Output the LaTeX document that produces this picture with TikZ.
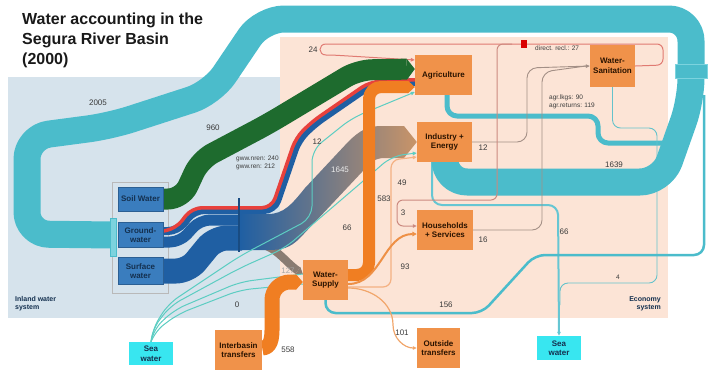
\documentclass[tikz,border=0pt]{standalone}
\usepackage{fontspec}
\setmainfont{Liberation Sans}
\usetikzlibrary{arrows.meta,calc}
\pgfdeclarelayer{back}
\pgfdeclarelayer{flow}
\pgfsetlayers{back,flow,main}
\definecolor{inland}{HTML}{D6E3EC}
\definecolor{econ}{HTML}{FCE4D6}
\definecolor{river}{HTML}{4BBCCB}
\definecolor{riverlt}{HTML}{7CD3DE}
\definecolor{soilgreen}{HTML}{1E6B2E}
\definecolor{gwblue}{HTML}{1F5FA3}
\definecolor{gwred}{HTML}{E8413C}
\definecolor{brownend}{HTML}{C99468}
\definecolor{forkgrey}{HTML}{8A7C72}
\definecolor{boxblue}{HTML}{3A7DBE}
\definecolor{boxedge}{HTML}{2B5F93}
\definecolor{boxorange}{HTML}{F0924A}
\definecolor{flowor}{HTML}{F07E22}
\definecolor{midor}{HTML}{EE9046}
\definecolor{lightor}{HTML}{F4B183}
\definecolor{seacyan}{HTML}{38E6F0}
\definecolor{sealine}{HTML}{5CCDC2}
\definecolor{recl}{HTML}{E07A72}
\definecolor{reclbrown}{HTML}{CC8A80}
\definecolor{greyflow}{HTML}{A38F86}
\definecolor{navytxt}{HTML}{14304F}
\definecolor{boxtxt}{HTML}{2A1300}
\definecolor{labtxt}{HTML}{3A3A3A}
\begin{document}
\begin{tikzpicture}[x=1pt,y=-1pt]
  \tikzstyle{bluebox}=[draw=boxedge, fill=boxblue, text=navytxt, font=\fontsize{8}{9.5}\selectfont\bfseries, align=center, inner sep=1pt]
  \tikzstyle{obox}=[fill=boxorange, text=boxtxt, font=\fontsize{8}{9.5}\selectfont\bfseries, align=center, inner sep=1pt]
  \tikzstyle{seabox}=[fill=seacyan, text=navytxt, font=\fontsize{8}{9.5}\selectfont\bfseries, align=center, inner sep=1pt]
  \tikzstyle{num}=[font=\fontsize{8}{9}\selectfont, text=labtxt, inner sep=0pt]
  \tikzstyle{note}=[font=\fontsize{6.5}{7.5}\selectfont, text=labtxt, inner sep=0pt, align=left]
  \tikzstyle{sysname}=[font=\fontsize{7}{8.5}\selectfont\bfseries, text=navytxt, inner sep=0pt]
  \tikzstyle{band}=[line cap=butt, line join=round]
  \tikzstyle{wire}=[line width=1pt, rounded corners=8]
  \tikzstyle{arrowhd}=[-{Triangle[length=4pt,width=3.5pt]}]

  \useasboundingbox (0,0) rectangle (708,376);
  \begin{pgfonlayer}{back}
    \fill[inland] (8,77) rectangle (280,318);
    \fill[econ] (280,37) rectangle (668,318);
  \end{pgfonlayer}

  \node[anchor=north west, inner sep=0pt, align=left, font=\fontsize{16}{20}\selectfont\bfseries, text=black!90] (title) at (22,13) {Water accounting in the\\Segura River Basin\\(2000)};

  \node[bluebox, minimum width=45, minimum height=24] (soil) at (140.5,199) {Soil Water};
  \node[bluebox, minimum width=45, minimum height=25] (ground) at (140.5,235) {Ground-\\water};
  \node[bluebox, minimum width=45, minimum height=27] (surface) at (140.5,271) {Surface\\water};
  \node[obox, minimum width=57, minimum height=40] (agri) at (443.5,75) {Agriculture};
  \node[obox, minimum width=55, minimum height=40] (indus) at (444.5,142) {Industry +\\Energy};
  \node[obox, minimum width=56, minimum height=40] (house) at (445,230) {Households\\+ Services};
  \node[obox, minimum width=45, minimum height=42] (wsan) at (612.5,66) {Water-\\Sanitation};
  \node[obox, minimum width=45, minimum height=40] (wsup) at (325.5,280) {Water-\\Supply};
  \node[obox, minimum width=47, minimum height=40] (inter) at (238.5,350) {Interbasin\\transfers};
  \node[obox, minimum width=43, minimum height=40] (outside) at (438.5,348) {Outside\\transfers};
  \node[seabox, minimum width=44, minimum height=23] (sealeft) at (151,353.5) {Sea\\water};
  \node[seabox, minimum width=44, minimum height=24] (searight) at (559,348) {Sea\\water};
  \coordinate (fork) at (258,244);

  \begin{pgfonlayer}{flow}
    \draw[gray!55, line width=0.6] (112,182) rectangle (168,293);
    \draw[river, band, line width=5, rounded corners=10] (agri.south -| 447,0) -- (447,116) -- (598,116) -- (598,143) -- (683,143) -- (683,110);
    \draw[riverlt!80!teal, wire, line width=0.9] (wsan.south) -- (612.5,128) -- (657,128) -- (657,283) -- (560,283) -- (560,305);
    \draw[river!85!white, wire, line width=2, rounded corners=10, arrowhd] (indus.south -| 432,0) -- (432,205) -- (558,205) -- (searight.north);
    \draw[river, wire, line width=2.5, rounded corners=10] (wsup.south) -- (325.5,313) -- (482,313) -- (535,255) -- (704,255) -- (704,95);
    \draw[river, band, line width=27, rounded corners=22] ($(ground.west)+(-4,0)$) -- (27,234) -- (27,137) -- (110,126) -- (212,93) -- (262,19) -- (691,19) -- (691,100) -- (662,182) -- (445,182) -- (indus.south -| 445,0);
    \filldraw[fill=riverlt, draw=river] (110,218) rectangle (116,256);
    \filldraw[fill=river, draw=riverlt, line width=1] (675,64) rectangle (707,78);

    \draw[greyflow, wire, line width=0.9, rounded corners=10, arrowhd] (indus.east) -- (527,142) -- (527,68) -- (wsan.west |- 0,66);
    \draw[greyflow, wire, line width=0.9, rounded corners=10] (house.east) -- (542,230) -- (542,72) -- (586,66);
    \draw[recl, wire, rounded corners=6, arrowhd] (wsan.east) -- (663,65) -- (663,44) -- (332,44) .. controls (318,44) and (318,55) .. (332,55) -- (agri.west |- 0,60);
    \draw[reclbrown, wire, rounded corners=6, arrowhd] (512,44) -- (497,44) -- (497,200) -- (397,200) -- (397,226) -- (house.west |- 0,226);
    \fill[red!85!black] (521,40) rectangle (527,48);

    \draw[gwblue, band, line width=25, rounded corners=12] (surface.east) -- (188,271) -- (215,238) -- (242,238);
    \draw[gwblue, band, line width=11, rounded corners=10] ($(ground.east)+(0,7)$) -- (180,242) -- (200,220) -- (242,220);
    \draw[gwblue, band, line width=8, rounded corners=10] ($(ground.east)+(0,-4)$) -- (178,231) -- (194,210) -- (274,210) -- (298,140) -- (314,124) -- (372,84) -- (agri.west |- 0,82);
    \draw[gwred, band, line width=3.5, rounded corners=10, xshift=-2.2pt, yshift=2.2pt] ($(ground.east)+(0,-4)$) -- (178,231) -- (194,210) -- (274,210) -- (298,140) -- (314,124) -- (372,84) -- (agri.west |- 0,82);

    \draw[forkgrey, band, line width=8, -{Triangle[length=6pt,width=9pt,line width=0pt]}] (fork) .. controls (276,246) and (285,262) .. (wsup.west |- 0,274);
    \shade[left color=gwblue, right color=brownend] (240,214) -- (268,214) .. controls (284,214) and (292,204) .. (305,188) -- (348,142) .. controls (360,130) and (368,126) .. (382,126) -- (404,126) -- (indus.west) -- (404,158) -- (385,158) .. controls (375,158) and (370,162) .. (362,172) -- (300,238) .. controls (290,248) and (282,250) .. (268,250) -- (240,250) -- cycle;
    \draw[gwblue!80!black, line width=1.5] (239,198) -- (239,252);

    \draw[soilgreen, band, line width=21, rounded corners=14, -{Triangle[length=8pt,width=21pt,line width=0pt]}] (soil.east) -- (182,199) -- (200,160) -- (268,124) -- (358,70) -- (agri.west |- 0,69);

    \draw[sealine, wire, rounded corners=12, arrowhd] (sealeft.north) -- (152,330) -- (170,306) -- (240,268) -- (285,248) -- (362,182) -- (392,156) -- (indus.west |- 0,153);
    \draw[sealine, wire, rounded corners=12, arrowhd] (sealeft.north) -- (152,330) -- (168,304) -- (240,256) -- (312,218) -- (312,150) -- (352,118) -- (agri.west |- 0,92);
    \draw[sealine, wire, rounded corners=12] (sealeft.north) -- (153,330) -- (174,310) -- (240,282) -- (wsup.west |- 0,274);
    \draw[sealine, wire, rounded corners=12] (sealeft.north) -- (154,332) -- (178,314) -- (240,290) -- (wsup.west |- 0,284);

    \draw[flowor, band, line width=15, -{Triangle[length=7pt,width=16pt,line width=0pt]}] ($(inter.east)+(0,-2)$) to[out=0,in=-90] (272,322) -- (272,300) to[out=90,in=180] (290,282) -- (wsup.west |- 0,282);
    \draw[flowor, band, line width=12, rounded corners=12, -{Triangle[length=7pt,width=13pt,line width=0pt]}] ($(wsup.east)+(0,-5)$) -- (369,275) -- (369,87) -- (agri.west |- 0,87);
    \draw[lightor, wire, line width=1.2, arrowhd] ($(wsup.east)+(0,7)$) -- (391,287) -- (391,160) -- (indus.west |- 0,157);
    \draw[midor, line width=2, -{Triangle[length=4.5pt,width=4.5pt]}] ($(wsup.east)+(0,4)$) to[out=0,in=180] (house.west |- 0,234);
    \draw[midor!80!white, line width=1.2, arrowhd] ($(wsup.east)+(0,8)$) to[out=0,in=90] (393,325) to[out=-90,in=180] (outside.west);
  \end{pgfonlayer}

  \node[num] (n2005) at (98,103) {2005};
  \node[num] (n960) at (213,128) {960};
  \node[num] (n24) at (313,50) {24};
  \node[num] (n12sea) at (317,142) {12};
  \node[num, text=white!85!gray] (n1645) at (340,170) {1645};
  \node[num] (n49) at (402,183) {49};
  \node[num] (n583) at (384,199) {583};
  \node[num] (n3) at (403,213) {3};
  \node[num] (n66sea) at (347,228) {66};
  \node[num] (n93) at (405,267) {93};
  \node[num, text=labtxt!45] (n127) at (288,271) {127};
  \node[num] (n0) at (237,305) {0};
  \node[num] (n558) at (288,350) {558};
  \node[num] (n101) at (402,333) {101};
  \node[num] (n156) at (446,305) {156};
  \node[num] (n12ind) at (483,148) {12};
  \node[num] (n16) at (483,240) {16};
  \node[num] (n66out) at (564,232) {66};
  \node[num] (n1639) at (614,165) {1639};
  \node[num, font=\fontsize{6.5}{7.5}\selectfont] (n4) at (618,277) {4};
  \node[note, anchor=north west] (gww) at (236,156) {gww.nren: 240\\gww.ren: 212};
  \node[note, anchor=north west] (agr) at (549,95) {agr.lkgs: 90\\agr.returns: 119};
  \node[note, anchor=west] (recllbl) at (535,48) {direct. recl.: 27};
  \node[sysname, anchor=north west, align=left] (inlandlbl) at (15,296) {Inland water\\system};
  \node[sysname, anchor=north east, align=right] (econlbl) at (661,296) {Economy\\system};
\end{tikzpicture}
\end{document}
